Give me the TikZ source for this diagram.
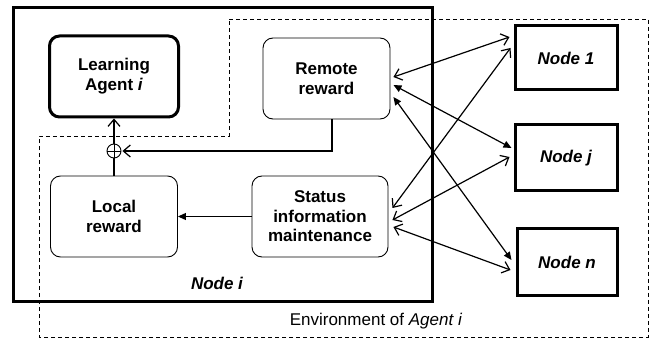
\documentclass[tikz,border=0pt]{standalone}
\usepackage{fontspec}
\setmainfont{Liberation Sans}
\usetikzlibrary{arrows.meta}

\tikzset{
  box/.style={draw,line width=0.9pt,rounded corners=10pt,align=center,font=\bfseries},
  agentbox/.style={draw,line width=3pt,rounded corners=10pt,align=center,font=\bfseries},
  peer/.style={draw,line width=3pt,align=center,font=\bfseries\itshape},
  link/.style={line width=1.2pt,{Straight Barb[length=7pt,width=12pt]}-{Straight Barb[length=7pt,width=12pt]}},
  flink/.style={line width=1.2pt,{Triangle[length=8pt,width=7pt]}-{Triangle[length=8pt,width=7pt]}}
}

\begin{document}
\begin{tikzpicture}[x=1pt,y=-1pt,every node/.style={font=\fontsize{17}{20}\selectfont}]
  \useasboundingbox (0,0) rectangle (656,339);
  % environment and node i
  \draw[line width=0.9pt,dash pattern=on 4pt off 3pt] (229,19)--(648,19)--(648,337)--(39,337)--(39,136)--(229,136)--cycle;
  \draw[line width=3pt] (13,8) rectangle (432,301);
  \node[font=\fontsize{17}{20}\selectfont\bfseries\itshape] (nodei) at (217,283) {Node i};
  \node (env) at (376,321) {Environment of \textit{Agent i}};

  \node[agentbox,minimum width=129pt,minimum height=81pt,font=\fontsize{17}{20}\selectfont\bfseries] (la) at (114,76.5) {Learning\\Agent \textit{i}};
  \node[box,minimum width=127pt,minimum height=81pt,font=\fontsize{17}{20}\selectfont\bfseries] (rr) at (326.5,78.5) {Remote\\reward};
  \node[box,minimum width=127pt,minimum height=81pt,font=\fontsize{17}{20}\selectfont\bfseries] (lr) at (114,216.5) {Local\\reward};
  \node[box,minimum width=136pt,minimum height=81pt,font=\fontsize{17}{19.5}\selectfont\bfseries] (st) at (320,216.5) {Status\\information\\maintenance};
  \node[draw,circle,line width=0.9pt,inner sep=0pt,minimum size=14pt] (sum) at (114,151) {};
  \draw[line width=0.9pt] (sum.north)--(sum.south) (sum.west)--(sum.east);

  \node[peer,minimum width=102pt,minimum height=64pt,font=\fontsize{17}{20}\selectfont\bfseries\itshape] (n1) at (566,58) {Node 1};
  \node[peer,minimum width=102pt,minimum height=66pt,font=\fontsize{17}{20}\selectfont\bfseries\itshape] (nj) at (566,158) {Node j};
  \node[peer,minimum width=100pt,minimum height=66pt,font=\fontsize{17}{20}\selectfont\bfseries\itshape] (nn) at (567,262) {Node n};

  \draw[line width=1.2pt] (lr.north)--(sum.south);
  \draw[line width=1.2pt,-{Straight Barb[length=7pt,width=12pt]}] (sum.north)--(la.south);
  \draw[line width=1.2pt,-{Straight Barb[length=7pt,width=12pt]}] ([xshift=5.5pt]rr.south) |- ([xshift=1pt]sum.east);
  \draw[line width=1.2pt,-{Triangle[length=8pt,width=7pt]}] (st.west)--(lr.east);

  \draw[link] ([xshift=3pt,yshift=1.5pt]rr.east)--([xshift=-4pt,yshift=21pt]n1.west);
  \draw[flink] ([xshift=3pt,yshift=-6.5pt]rr.east)--([xshift=-2pt,yshift=10pt]nj.west);
  \draw[flink] ([xshift=3pt,yshift=-18.5pt]rr.east)--([xshift=-4pt,yshift=2pt]nn.west);
  \draw[link] ([xshift=4pt,yshift=8.5pt]st.east)--([xshift=-3pt,yshift=10pt]n1.west);
  \draw[link] ([xshift=4pt,yshift=-3.5pt]st.east)--([xshift=-4pt,yshift=1pt]nj.west);
  \draw[link] ([xshift=5pt,yshift=-10.5pt]st.east)--([xshift=-5pt,yshift=-8pt]nn.west);
\end{tikzpicture}
\end{document}
